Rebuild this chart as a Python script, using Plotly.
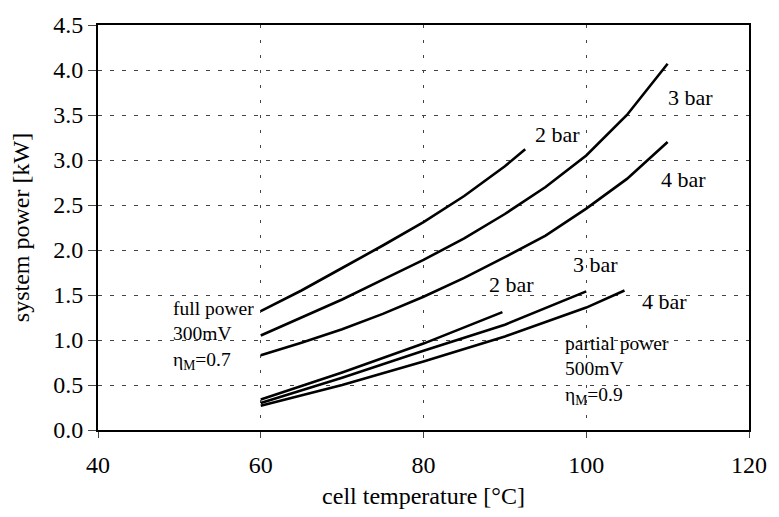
import plotly.graph_objects as go

# full power curves (300 mV, eta_M = 0.7)
full_2bar_T = [60, 65, 70, 75, 80, 85, 90, 92.5]
full_2bar_P = [1.32, 1.55, 1.80, 2.05, 2.31, 2.60, 2.93, 3.12]
full_3bar_T = [60, 65, 70, 75, 80, 85, 90, 95, 100, 105, 110]
full_3bar_P = [1.05, 1.25, 1.45, 1.67, 1.89, 2.13, 2.40, 2.70, 3.05, 3.50, 4.07]
full_4bar_T = [60, 65, 70, 75, 80, 85, 90, 95, 100, 105, 110]
full_4bar_P = [0.83, 0.97, 1.12, 1.29, 1.48, 1.69, 1.92, 2.16, 2.46, 2.79, 3.20]

# partial power curves (500 mV, eta_M = 0.9)
part_2bar_T = [60, 70, 80, 89.7]
part_2bar_P = [0.34, 0.64, 0.96, 1.31]
part_3bar_T = [60, 70, 80, 90, 100]
part_3bar_P = [0.30, 0.58, 0.88, 1.17, 1.54]
part_4bar_T = [60, 70, 80, 90, 100, 104.7]
part_4bar_P = [0.27, 0.50, 0.76, 1.04, 1.36, 1.55]

x_ticks = [40, 60, 80, 100, 120]
y_ticks = [0.0, 0.5, 1.0, 1.5, 2.0, 2.5, 3.0, 3.5, 4.0, 4.5]

FONT = "Liberation Serif, Times New Roman, Times, serif"

fig = go.Figure()
for T, P in [(full_2bar_T, full_2bar_P), (full_3bar_T, full_3bar_P), (full_4bar_T, full_4bar_P),
             (part_2bar_T, part_2bar_P), (part_3bar_T, part_3bar_P), (part_4bar_T, part_4bar_P)]:
    fig.add_trace(go.Scatter(x=T, y=P, mode="lines", line=dict(color="black", width=2.6),
                             showlegend=False, hoverinfo="skip"))

labels = [
    ("2 bar", 93.0, 3.28),
    ("3 bar", 109.3, 3.70),
    ("4 bar", 108.4, 2.78),
    ("2 bar", 87.3, 1.62),
    ("3 bar", 97.6, 1.84),
    ("4 bar", 106.1, 1.43),
]
for txt, x, y in labels:
    fig.add_annotation(x=x, y=y, text=txt, showarrow=False, xanchor="left", yanchor="middle",
                       xshift=4, font=dict(family=FONT, size=22, color="black"))

notes = [
    ("full power<br>300mV<br>η<sub>M</sub>=0.7", 49.0, 1.05),
    ("partial power<br>500mV<br>η<sub>M</sub>=0.9", 97.1, 0.66),
]
for txt, x, y in notes:
    fig.add_annotation(x=x, y=y, text=txt, showarrow=False, xanchor="left", yanchor="middle",
                       align="left", font=dict(family=FONT, size=19.5, color="black"))

fig.update_layout(
    width=779, height=517,
    margin=dict(l=98, r=21, t=17, b=84),
    paper_bgcolor="white", plot_bgcolor="white",
    font=dict(family=FONT, size=24, color="black"),
    xaxis=dict(range=[40, 120], tickvals=x_ticks, ticktext=[str(v) for v in x_ticks],
               showgrid=True, gridcolor="#444444", griddash="3px,12px", gridwidth=1,
               showline=True, linecolor="black", linewidth=2, mirror=True,
               ticks="outside", ticklen=6, tickcolor="#444444",
               ticklabelstandoff=6, ticklabeloverflow="allow",
               tickfont=dict(family=FONT, size=24),
               title=dict(text="cell temperature [°C]", font=dict(family=FONT, size=24), standoff=10),
               zeroline=False),
    yaxis=dict(range=[0, 4.5], tickvals=y_ticks, ticktext=[f"{v:.1f}" for v in y_ticks],
               showgrid=True, gridcolor="#444444", griddash="4px,8px", gridwidth=1,
               showline=True, linecolor="black", linewidth=2, mirror=True,
               ticks="outside", ticklen=8, tickcolor="#444444",
               ticklabeloverflow="allow",
               tickfont=dict(family=FONT, size=24),
               title=dict(text="system power [kW]", font=dict(family=FONT, size=24), standoff=17),
               zeroline=False),
)

fig.write_html("out.html")
